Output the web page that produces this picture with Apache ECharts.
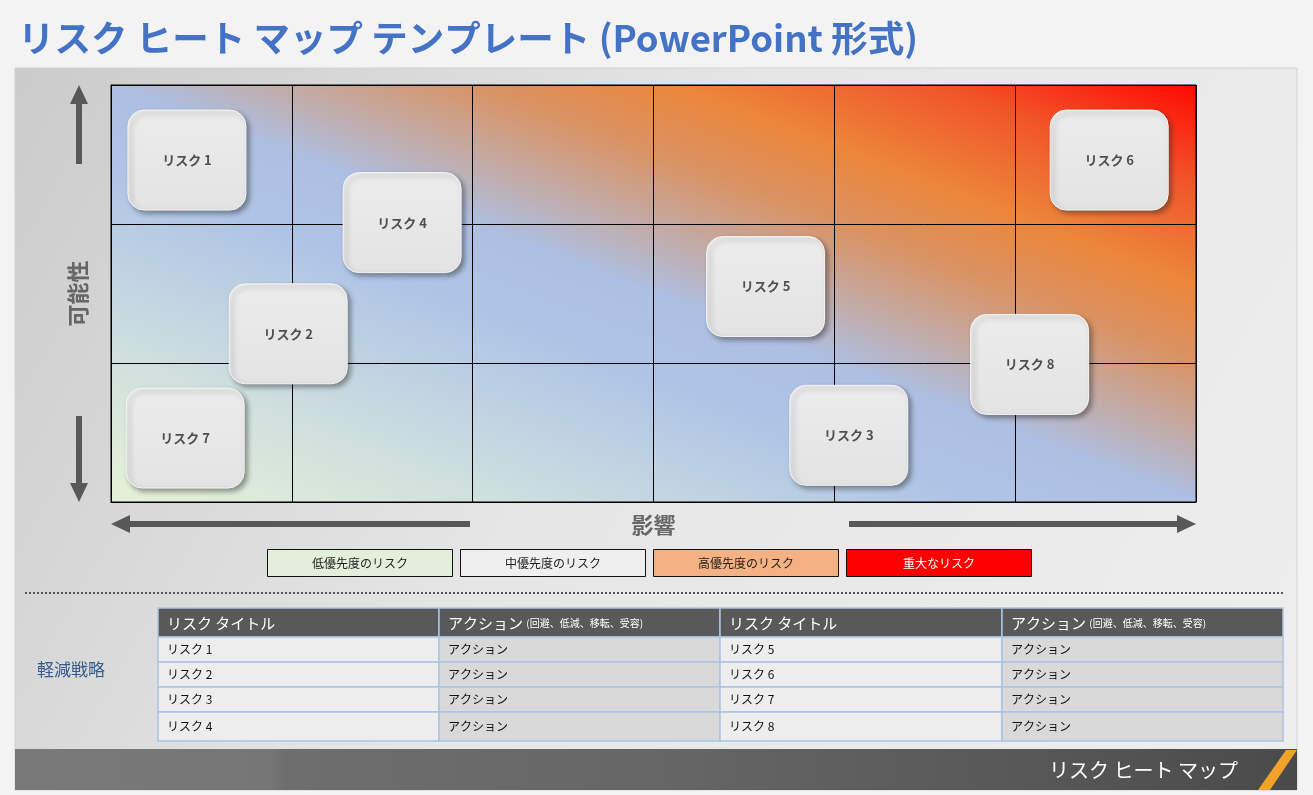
<!DOCTYPE html>
<html><head><meta charset="utf-8">
<script src="https://cdn.jsdelivr.net/npm/echarts@6/dist/echarts.min.js"></script>
<style>html,body{margin:0;padding:0;background:#f3f3f3;} #c{width:1313px;height:795px;}</style>
</head><body><div id="c"></div>
<script>
// ---- data ----
const pageTitle = 'リスク ヒート マップ テンプレート (PowerPoint 形式)';
const impactName = '影響';
const likelihoodName = '可能性';
const riskNames = ['リスク 1', 'リスク 2', 'リスク 3', 'リスク 4', 'リスク 5', 'リスク 6', 'リスク 7', 'リスク 8'];
const riskImpact = [0.42, 0.98, 4.08, 1.61, 3.62, 5.52, 0.41, 5.08];      // 0..6 columns
const riskLikelihood = [2.46, 1.21, 0.48, 2.01, 1.55, 2.46, 0.46, 0.99];  // 0..3 rows
const legendLabels = ['低優先度のリスク', '中優先度のリスク', '高優先度のリスク', '重大なリスク'];
const tableHeaders = ['リスク タイトル', 'アクション', 'リスク タイトル', 'アクション'];
const actionNote = '(回避、低減、移転、受容)';
const tableLeftRisks = ['リスク 1', 'リスク 2', 'リスク 3', 'リスク 4'];
const tableRightRisks = ['リスク 5', 'リスク 6', 'リスク 7', 'リスク 8'];
const tableActions = ['アクション', 'アクション', 'アクション', 'アクション'];
const sectionLabel = '軽減戦略';
const footerLabel = 'リスク ヒート マップ';

// ---- styles / layout ----
const JP = '"Noto Sans CJK JP", "Noto Sans", sans-serif';
const G = { left: 111, top: 85, width: 1085, height: 417 };
const legendFill = ['#e2efda', '#efefef', '#f4b183', '#ff0000'];
const legendText = ['#222', '#222', '#222', '#fff'];
const arrowColor = '#585858';

const chart = echarts.init(document.getElementById('c'), null, { renderer: 'canvas' });
const LG = echarts.graphic.LinearGradient;

const heatGradient = new LG(0.371, 1.371, 0.629, -0.371, [
  { offset: 0.00, color: '#e6f2d6' },
  { offset: 0.18, color: '#cfe0de' },
  { offset: 0.40, color: '#aec4e6' },
  { offset: 0.50, color: '#adbfe2' },
  { offset: 0.58, color: '#c3aaa6' },
  { offset: 0.67, color: '#da9263' },
  { offset: 0.76, color: '#ec863a' },
  { offset: 0.88, color: '#f1552a' },
  { offset: 1.00, color: '#ff0800' }
]);

const els = [];
// panel background
els.push({ type: 'rect', z: -10, shape: { x: 15, y: 68, width: 1282, height: 722 },
  style: { fill: new LG(0, 0, 1, 1, [{ offset: 0, color: '#cbcbcb' }, { offset: 0.45, color: '#e6e6e6' }, { offset: 1, color: '#eeeeee' }]),
    stroke: '#d2d2d2', lineWidth: 1 } });
// title
els.push({ type: 'text', style: { x: 18, y: 38, text: pageTitle, fill: '#4472c4', font: 'bold 36.5px ' + JP, verticalAlign: 'middle' } });
// vertical arrows
function vArrow(tipY, tailY) {
  const dir = tailY > tipY ? 1 : -1;
  const baseY = tipY + dir * 19;
  els.push({ type: 'polygon', shape: { points: [[79, tipY], [88, baseY], [82, baseY], [82, tailY], [76, tailY], [76, baseY], [70, baseY]] }, style: { fill: arrowColor } });
}
vArrow(85, 164); vArrow(502, 416);
function hArrow(tipX, tailX) {
  const dir = tailX > tipX ? 1 : -1;
  const baseX = tipX + dir * 19;
  els.push({ type: 'polygon', shape: { points: [[tipX, 524], [baseX, 515], [baseX, 521], [tailX, 521], [tailX, 527], [baseX, 527], [baseX, 533]] }, style: { fill: arrowColor } });
}
hArrow(111, 470); hArrow(1196, 849);
// legend
const legX = [267, 460, 653, 846];
legendLabels.forEach((t, i) => {
  els.push({ type: 'rect', shape: { x: legX[i] + 0.5, y: 549.5, width: 185, height: 27 }, style: { fill: legendFill[i], stroke: '#111', lineWidth: 1 } });
  els.push({ type: 'text', style: { x: legX[i] + 93, y: 563, text: t, fill: legendText[i], font: '12px ' + JP, align: 'center', verticalAlign: 'middle' } });
});
// dotted separator
els.push({ type: 'line', shape: { x1: 25, y1: 593, x2: 1283, y2: 593 }, style: { stroke: '#555', lineWidth: 2, lineDash: [2, 2] } });
// section label
els.push({ type: 'text', style: { x: 71, y: 670, text: sectionLabel, fill: '#355c8c', font: '17px ' + JP, align: 'center', verticalAlign: 'middle' } });
// table
const colX = [158, 439, 720, 1002, 1283];
const rowY = [608, 637, 662, 687, 712, 741];
for (let c = 0; c < 4; c++) {
  els.push({ type: 'rect', shape: { x: colX[c], y: rowY[0], width: colX[c + 1] - colX[c], height: rowY[1] - rowY[0] }, style: { fill: '#595959', stroke: '#a9c4e4', lineWidth: 1.5 } });
  const isAction = c % 2 === 1;
  els.push({ type: 'text', style: { x: colX[c] + 9, y: (rowY[0] + rowY[1]) / 2 + 1,
    text: isAction ? '{a|' + tableHeaders[c] + '} {b|' + actionNote + '}' : '{a|' + tableHeaders[c] + '}',
    rich: { a: { fill: '#fff', font: '15px ' + JP }, b: { fill: '#fff', font: '10px ' + JP } },
    verticalAlign: 'middle' } });
  for (let r = 0; r < 4; r++) {
    els.push({ type: 'rect', shape: { x: colX[c], y: rowY[r + 1], width: colX[c + 1] - colX[c], height: rowY[r + 2] - rowY[r + 1] },
      style: { fill: isAction ? '#d9d9d9' : '#ededed', stroke: '#a9c4e4', lineWidth: 1.5 } });
    const txt = c === 0 ? tableLeftRisks[r] : c === 2 ? tableRightRisks[r] : tableActions[r];
    els.push({ type: 'text', style: { x: colX[c] + 9, y: (rowY[r + 1] + rowY[r + 2]) / 2, text: txt, fill: '#111', font: '12px ' + JP, verticalAlign: 'middle' } });
  }
}
// footer band
els.push({ type: 'rect', shape: { x: 15, y: 749, width: 1282, height: 41 },
  style: { fill: new LG(0, 0, 1, 0, [{ offset: 0, color: '#797979' }, { offset: 0.2, color: '#767676' }, { offset: 0.21, color: '#6e6e6e' }, { offset: 0.5, color: '#666' }, { offset: 0.8, color: '#575757' }, { offset: 1, color: '#4a4a4a' }]) } });
els.push({ type: 'text', style: { x: 1238, y: 770, text: footerLabel, fill: '#fff', font: '20px ' + JP, align: 'right', verticalAlign: 'middle' } });
els.push({ type: 'polygon', shape: { points: [[1286, 750], [1297, 750], [1270, 790], [1258, 790]] }, style: { fill: '#f0a22a' } });

const option = {
  animation: false,
  backgroundColor: '#f3f3f3',
  grid: { left: G.left, top: G.top, width: G.width, height: G.height, show: true,
    backgroundColor: heatGradient, borderColor: '#000', borderWidth: 1 },
  xAxis: { type: 'value', min: 0, max: 6, interval: 1,
    name: impactName, nameLocation: 'middle', nameGap: 12,
    nameTextStyle: { color: '#666', fontSize: 22, fontWeight: 'bold', fontFamily: JP },
    axisLine: { show: true, lineStyle: { color: '#000', width: 1 } }, axisTick: { show: false }, axisLabel: { show: false },
    splitLine: { show: true, lineStyle: { color: '#000', width: 1 } } },
  yAxis: { type: 'value', min: 0, max: 3, interval: 1,
    name: likelihoodName, nameLocation: 'middle', nameGap: 22,
    nameTextStyle: { color: '#666', fontSize: 22, fontWeight: 'bold', fontFamily: JP },
    axisLine: { show: true, lineStyle: { color: '#000', width: 1 } }, axisTick: { show: false }, axisLabel: { show: false },
    splitLine: { show: true, lineStyle: { color: '#000', width: 1 } } },
  graphic: { elements: els },
  series: [{
    type: 'custom',
    coordinateSystem: 'cartesian2d',
    data: riskImpact.map((x, i) => [x, riskLikelihood[i]]),
    encode: { x: 0, y: 1 },
    z: 5,
    renderItem: (params, api) => {
      const p = api.coord([api.value(0), api.value(1)]);
      const w = 118, h = 100;
      return { type: 'group', children: [
        { type: 'rect', shape: { x: p[0] - w / 2, y: p[1] - h / 2, width: w, height: h, r: 16 },
          style: { fill: new LG(0, 0, 0, 1, [{ offset: 0, color: '#ececec' }, { offset: 1, color: '#e3e3e3' }]),
            stroke: '#f6f6f6', lineWidth: 1, shadowBlur: 5, shadowOffsetX: 3, shadowOffsetY: 3, shadowColor: 'rgba(40,40,40,0.45)' } },
        { type: 'text', style: { x: p[0], y: p[1], text: riskNames[params.dataIndex], fill: '#4f4f4f', font: 'bold 13px ' + JP, align: 'center', verticalAlign: 'middle' } }
      ] };
    }
  }]
};
chart.setOption(option);
</script></body></html>
